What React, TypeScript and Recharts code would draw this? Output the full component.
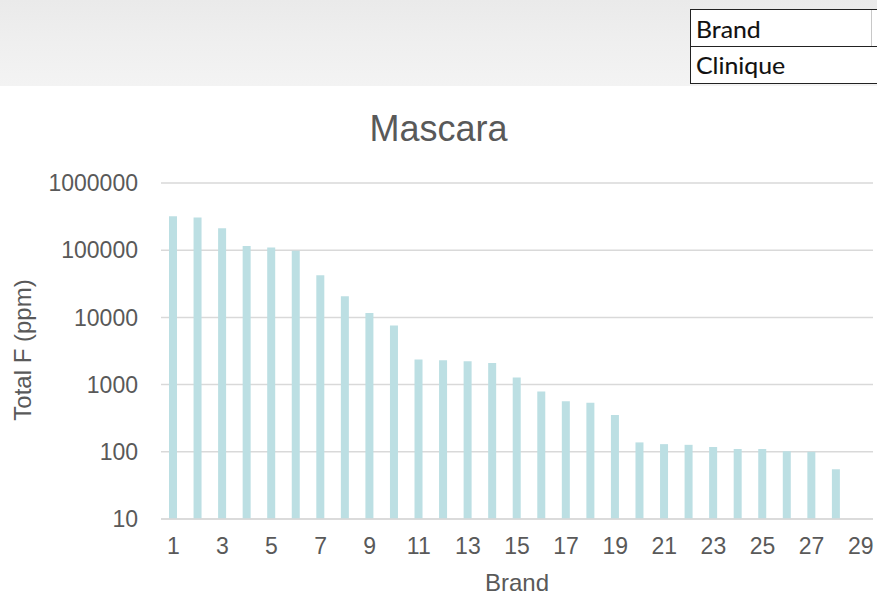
import { Bar, BarChart, CartesianGrid, XAxis, YAxis } from "recharts";

// brand index on the x axis (29th has no measurement)
const brands = [
  "1", "2", "3", "4", "5", "6", "7", "8", "9", "10",
  "11", "12", "13", "14", "15", "16", "17", "18", "19", "20",
  "21", "22", "23", "24", "25", "26", "27", "28", "29",
];

// total fluorine, ppm
const totalF: (number | null)[] = [
  320000, 307000, 212000, 115000, 110000, 98000, 42500, 20700, 11600, 7600,
  2360, 2300, 2220, 2100, 1270, 790, 566, 537, 352, 138,
  130, 127, 118, 110, 110, 102, 100, 55, null,
];

const yTicks = [10, 100, 1000, 10000, 100000, 1000000];

const FONT = '"Liberation Sans", Arial, sans-serif';
const TEXT = "#595959";
const GRID = "#d9d9d9";

const chartData = brands.map((brand, i) => ({ brand, value: totalF[i] }));

const cellText = {
  position: "absolute" as const,
  left: 5,
  lineHeight: "24px",
  transform: "scaleX(1.08)",
  transformOrigin: "left center",
  WebkitTextStroke: "0.12px #111",
  whiteSpace: "nowrap" as const,
};

function HeaderStrip() {
  return (
    <div
      style={{
        position: "absolute",
        left: 0,
        top: 0,
        width: 877,
        height: 86,
        background: "linear-gradient(180deg, #eaeaea 0%, #efefef 50%, #f3f3f3 100%)",
      }}
    >
      <div
        style={{
          position: "absolute",
          left: 690,
          top: 9,
          width: 187,
          height: 75,
          background: "#fff",
          borderTop: "1.5px solid #222",
          borderLeft: "1.5px solid #222",
          borderBottom: "1.5px solid #222",
          boxSizing: "border-box",
          fontFamily: "Lato, sans-serif",
          fontSize: 23,
          color: "#111",
        }}
      >
        <div
          style={{
            height: 37,
            borderBottom: "1.5px solid #222",
            boxSizing: "border-box",
            position: "relative",
          }}
        >
          <span style={{ ...cellText, top: 6.5 }}>Brand</span>
          <div
            style={{
              position: "absolute",
              left: 180,
              top: 0,
              width: 1,
              height: 36,
              background: "#c8c8c8",
            }}
          />
        </div>
        <div style={{ height: 36, position: "relative" }}>
          <span style={{ ...cellText, top: 5.5 }}>Clinique</span>
        </div>
      </div>
    </div>
  );
}

export default function App() {
  return (
    <div
      style={{
        position: "absolute",
        left: 0,
        top: 0,
        width: 877,
        height: 596,
        background: "#fff",
        overflow: "hidden",
      }}
    >
      <HeaderStrip />

      <div
        style={{
          position: "absolute",
          left: 0,
          top: 111,
          width: 877,
          textAlign: "center",
          fontFamily: FONT,
          fontSize: 36,
          lineHeight: "36px",
          color: TEXT,
        }}
      >
        Mascara
      </div>

      <div
        style={{
          position: "absolute",
          left: -77,
          top: 338,
          width: 200,
          height: 24,
          lineHeight: "24px",
          textAlign: "center",
          transform: "rotate(-90deg)",
          fontFamily: FONT,
          fontSize: 24,
          color: TEXT,
        }}
      >
        Total F (ppm)
      </div>

      <div style={{ position: "absolute", left: 0, top: 0 }}>
        <BarChart
          width={877}
          height={596}
          data={chartData}
          margin={{ top: 183, right: 4, bottom: 3, left: 0 }}
          barSize={8}
        >
          <CartesianGrid vertical={false} stroke={GRID} strokeWidth={1.5} />
          <XAxis
            dataKey="brand"
            interval={1}
            tickLine={false}
            axisLine={{ stroke: GRID, strokeWidth: 1.5 }}
            height={74}
            tickMargin={13}
            tick={{ fontSize: 23, fill: TEXT, fontFamily: FONT }}
            label={{
              value: "Brand",
              position: "insideBottom",
              offset: 2,
              fontSize: 24,
              fill: TEXT,
              fontFamily: FONT,
            }}
          />
          <YAxis
            scale="log"
            domain={[10, 1000000]}
            ticks={yTicks}
            allowDataOverflow
            width={161}
            tickLine={false}
            axisLine={false}
            tickMargin={17}
            tick={{ fontSize: 23, fill: TEXT, fontFamily: FONT }}
          />
          <Bar dataKey="value" fill="#bcdfe3" isAnimationActive={false} />
        </BarChart>
      </div>
    </div>
  );
}
